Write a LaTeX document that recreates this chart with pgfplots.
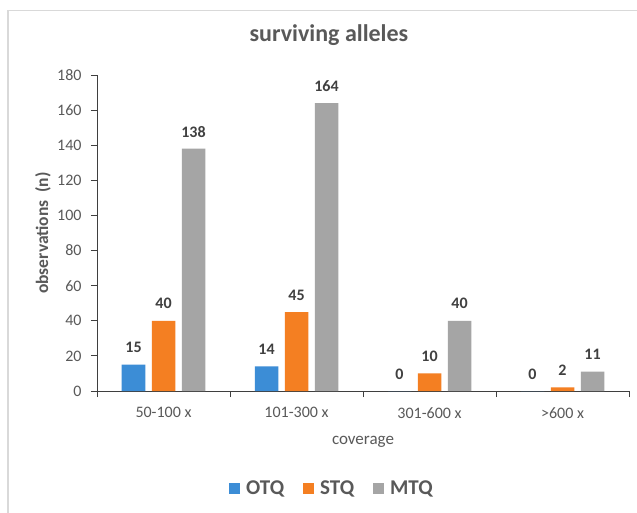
\documentclass[border=0pt]{standalone}
\usepackage{pgfplots}
\pgfplotsset{compat=1.18}
\usepackage{fontspec}
\setmainfont{Carlito}
\definecolor{cOTQ}{HTML}{3C8DD6}
\definecolor{cSTQ}{HTML}{F47F22}
\definecolor{cMTQ}{HTML}{A5A5A5}
\definecolor{txt}{HTML}{595959}
\definecolor{lbl}{HTML}{404040}
\definecolor{axl}{HTML}{3F3F3F}
\definecolor{framec}{HTML}{D9D9D9}
\pgfplotsset{sqlegend/.style={legend image code/.code={\fill[##1] (0bp,-5.5bp) rectangle (11bp,5.5bp);}}}
\begin{document}
\begin{tikzpicture}
\useasboundingbox (0,0) rectangle (637bp,-513bp);
\fill[white] (0,0) rectangle (637bp,-513bp);
\draw[framec, line width=1.2bp] (8bp,-514bp) -- (8bp,-10.5bp) -- (638bp,-10.5bp);
\begin{axis}[
  at={(97bp,-391bp)}, anchor=south west,
  width=532bp, height=316bp, scale only axis,
  xmin=-0.5, xmax=3.5, ymin=0, ymax=180,
  ybar=6.5bp, bar width=23.5bp,
  axis lines*=left,
  axis line style={axl, line width=0.9bp},
  tick style={axl, line width=0.9bp},
  tick align=outside, major tick length=6bp,
  xtick={-0.5,0.5,1.5,2.5,3.5},
  x tick label as interval,
  xticklabels={50-100 x,101-300 x,301-600 x,>600 x},
  ytick={0,20,...,180},
  /pgf/number format/assume math mode=true,
  ticklabel style={font=\fontsize{16bp}{18bp}\selectfont, text=txt},
  xticklabel style={yshift=-7bp},
  yticklabel style={xshift=-6bp},
  nodes near coords,
  every node near coord/.append style={font=\fontsize{16bp}{18bp}\selectfont\bfseries, text=lbl, anchor=center, inner sep=0pt, yshift=17bp},
  title={surviving alleles},
  title style={at={(axis description cs:0.436,1.0886)}, anchor=base, yshift=0pt, font=\fontsize{24bp}{26bp}\selectfont\bfseries, text=txt},
  xlabel={coverage},
  xlabel style={at={(axis description cs:0.5,-0.1614)}, anchor=center, font=\fontsize{17bp}{19bp}\selectfont, text=txt},
  ylabel={observations\ \ (n)},
  ylabel style={at={(axis description cs:-0.1015,0.5)}, anchor=center, font=\fontsize{17.5bp}{19bp}\selectfont\bfseries, text=txt},
  legend columns=3,
  legend style={at={(axis description cs:0.4417,-0.307)}, anchor=center, draw=none, fill=none, font=\fontsize{21bp}{24bp}\selectfont\bfseries, text=txt,
    /tikz/every odd column/.append style={column sep=4bp},
    /tikz/every even column/.append style={column sep=17bp}},
]
\addplot[fill=cOTQ, draw=none, sqlegend] coordinates {(0,15) (1,14) (2,0) (3,0)};
\addplot[fill=cSTQ, draw=none, sqlegend] coordinates {(0,40) (1,45) (2,10) (3,2)};
\addplot[fill=cMTQ, draw=none, sqlegend] coordinates {(0,138) (1,164) (2,40) (3,11)};
\legend{OTQ,STQ,MTQ}
\end{axis}
\end{tikzpicture}
\end{document}
